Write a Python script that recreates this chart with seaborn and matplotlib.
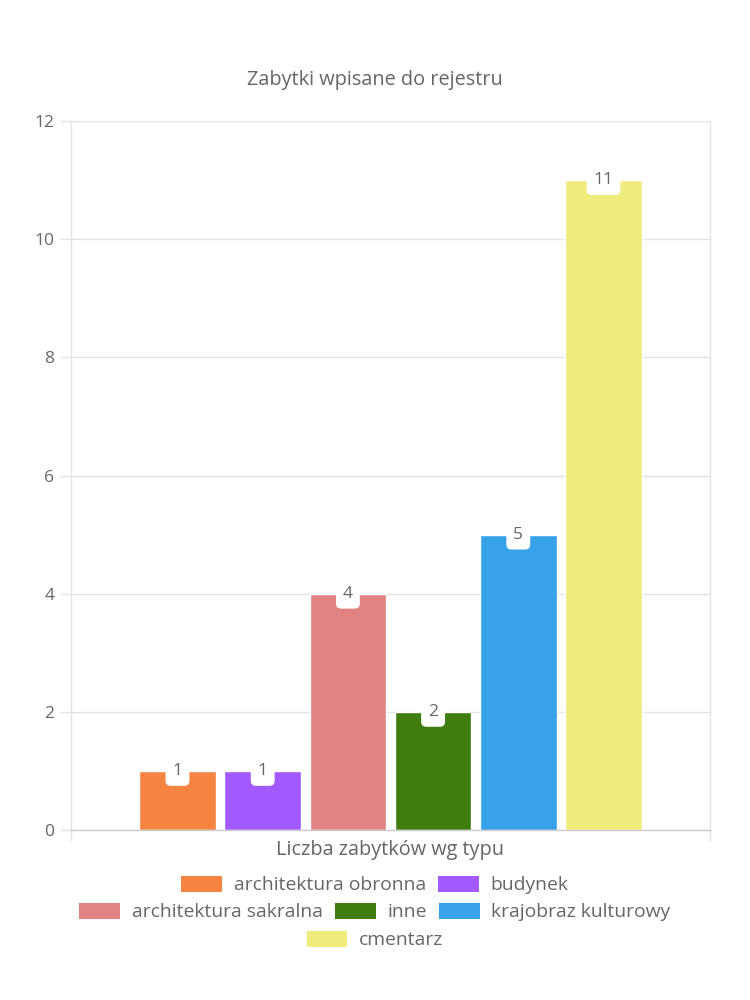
import matplotlib
matplotlib.use("Agg")
import matplotlib.pyplot as plt
import seaborn as sns
import pandas as pd
from matplotlib.patches import Rectangle

# ---- data ----
category = ["Liczba zabytków wg typu"]
types = ["architektura obronna", "budynek", "architektura sakralna", "inne",
         "krajobraz kulturowy", "cmentarz"]
values = [1, 1, 4, 2, 5, 11]
colors = ["#f58342", "#a259ff", "#e18383", "#3f7e0e", "#37a2ea", "#f0eb7d"]
title = "Zabytki wpisane do rejestru"
y_ticks = [0, 2, 4, 6, 8, 10, 12]
legend_rows = [[0, 1], [2, 3, 4], [5]]

sns.set_theme(style="white")
plt.rcParams['font.family'] = ['Open Sans', 'DejaVu Sans']
TXT = "#666666"
GRID = "#e3e3e3"

df = pd.DataFrame({"cat": category * len(types), "type": types, "value": values})

fig = plt.figure(figsize=(7.5, 10), dpi=100)
ax = fig.add_axes([71/750, 1-830/1000, (710-71)/750, (830-121)/1000])

sns.barplot(data=df, x="cat", y="value", hue="type", hue_order=types,
            palette=colors, saturation=1, width=0.8, gap=0.1, legend=False, ax=ax)

ax.set_ylim(0, 12)
ax.set_xlim(-0.5, 0.5)
ax.set_yticks(y_ticks)
ax.set_yticklabels([str(t) for t in y_ticks])
ax.set_xticks([0])
ax.set_xticklabels(category)
ax.set_xticks([-0.5, 0.5], minor=True)
ax.tick_params(axis="x", which="major", length=0, pad=7, labelsize=14.3, labelcolor=TXT)
ax.tick_params(axis="x", which="minor", length=8, width=1, color=GRID, bottom=True)
ax.tick_params(axis="y", length=8, width=1, color=GRID, labelsize=12.5, labelcolor=TXT, pad=4, left=True)
ax.set_xlabel("")
ax.set_ylabel("")
ax.yaxis.grid(True, color=GRID, linewidth=1)
ax.set_axisbelow(True)
for side, sp in ax.spines.items():
    sp.set_visible(True)
    sp.set_color(GRID)
    sp.set_linewidth(1)
ax.spines["bottom"].set_color("#cccccc")
ax.spines["top"].set_visible(False)

# value labels
for patch in ax.patches:
    h = patch.get_height()
    if h <= 0:
        continue
    ax.annotate(f"{int(round(h))}", xy=(patch.get_x() + patch.get_width()/2, h),
                xytext=(0, 0), textcoords="offset points", ha="center", va="center",
                fontsize=12.5, color=TXT,
                bbox=dict(boxstyle="round,pad=0.4,rounding_size=0.3", fc="white", ec="none"))

fig.text(0.5, 1 - 80/1000, title, ha="center", va="center", fontsize=14.3, color=TXT)

# legend rows (centered, chart.js style)
row_y = [885, 912, 940]
for row, yy in zip(legend_rows, row_y):
    handles = [Rectangle((0, 0), 1, 1, fc=colors[i], ec="none") for i in row]
    labels = [types[i] for i in row]
    leg = fig.legend(handles, labels, loc="center", bbox_to_anchor=(0.5, 1 - yy/1000),
                     ncol=len(row), frameon=False, fontsize=13.9,
                     handlelength=2.1, handleheight=0.92, handletextpad=0.6,
                     columnspacing=0.65, borderpad=0, borderaxespad=0)
    for t in leg.get_texts():
        t.set_color(TXT)

fig.savefig("out.png", dpi=100, facecolor="white")
